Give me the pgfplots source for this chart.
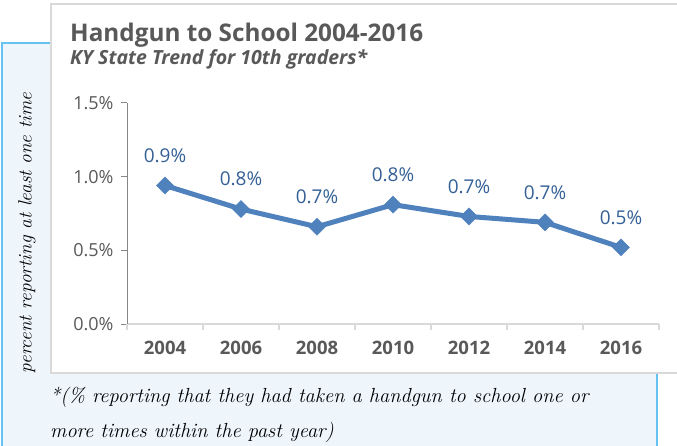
\documentclass[border=0pt]{standalone}
\usepackage{fontspec}
\usepackage{pgfplots}
\pgfplotsset{compat=1.18}
\newfontfamily\osans{Open Sans}
\definecolor{lineblue}{RGB}{79,129,189}
\definecolor{lblblue}{RGB}{52,96,150}
\definecolor{txtgray}{RGB}{89,89,89}
\definecolor{panelblue}{RGB}{238,246,252}
\definecolor{edgeblue}{RGB}{100,195,240}
\definecolor{axgray}{RGB}{134,134,134}
\definecolor{lightax}{RGB}{217,217,217}
\begin{document}
\begin{tikzpicture}[x=1pt,y=1pt]
\useasboundingbox (0,0) rectangle (677,445);
\begin{scope}
\clip (0,0) rectangle (677,445);
\fill[panelblue] (2,-5) rectangle (657,402);
\draw[edgeblue, line width=1.5pt] (2,-5) -- (2,402) -- (657,402) -- (657,-5);
\filldraw[fill=white, draw=lightax, line width=2.5pt] (51,72) rectangle (690,441);
\end{scope}
\node[anchor=base west, inner sep=0pt, text=txtgray, font=\osans\bfseries\fontsize{24.3}{24.3}\selectfont] at (70,403) {Handgun to School 2004-2016};
\node[anchor=base west, inner sep=0pt, text=txtgray, font=\osans\bfseries\itshape\fontsize{19.5}{19.5}\selectfont] at (70,380) {KY State Trend for 10th graders*};
\node[rotate=90, anchor=center, inner sep=0pt, font=\itshape\fontsize{19.2}{19.2}\selectfont] at (27,212) {percent reporting at least one time};
\node[anchor=base west, inner sep=0pt, font=\itshape\fontsize{20.4}{20.4}\selectfont] at (50,43) {*(\% reporting that they had taken a handgun to school one or};
\node[anchor=base west, inner sep=0pt, font=\itshape\fontsize{20.4}{20.4}\selectfont] at (50,8) {more times within the past year)};
\begin{axis}[
  at={(165pt,121pt)}, anchor=origin,
  scale only axis, width=532pt, height=221pt,
  xmin=-0.5, xmax=6.5, ymin=0, ymax=1.5,
  axis lines=left, axis line style={-},
  x axis line style={draw=lightax, line width=1.5pt},
  y axis line style={draw=axgray, line width=1pt},
  clip=false,
  /pgf/number format/assume math mode=true,
  xtick={0,1,2,3,4,5,6},
  xticklabels={2004,2006,2008,2010,2012,2014,2016},
  x tick style={draw=none},
  extra x ticks={-0.5,0.5,1.5,2.5,3.5,4.5,5.5,6.5},
  extra x tick labels={},
  extra x tick style={x tick style={draw=lightax, line width=1.5pt}},
  ytick={0,0.5,1,1.5},
  yticklabels={0.0\%,0.5\%,1.0\%,1.5\%},
  y tick style={draw=axgray, line width=1pt},
  tick align=outside, major tick length=6pt,
  yticklabel style={font=\osans\fontsize{18}{18}\selectfont, text=txtgray, xshift=-4pt},
  xticklabel style={font=\osans\bfseries\fontsize{18.5}{18.5}\selectfont, text=txtgray, yshift=-8pt},
]
\addplot[color=lineblue, line width=5pt, mark=square*, mark size=6pt,
  mark options={rotate=45, solid, line width=0.5pt},
  nodes near coords={\pgfplotspointmeta\%}, point meta=explicit symbolic,
  every node near coord/.append style={anchor=center, yshift=30pt, text=lblblue, font=\osans\fontsize{19}{19}\selectfont}]
  table[meta=lbl] {
x y lbl
0 0.94 0.9
1 0.78 0.8
2 0.66 0.7
3 0.81 0.8
4 0.73 0.7
5 0.69 0.7
6 0.52 0.5
};
\end{axis}
\end{tikzpicture}
\end{document}
